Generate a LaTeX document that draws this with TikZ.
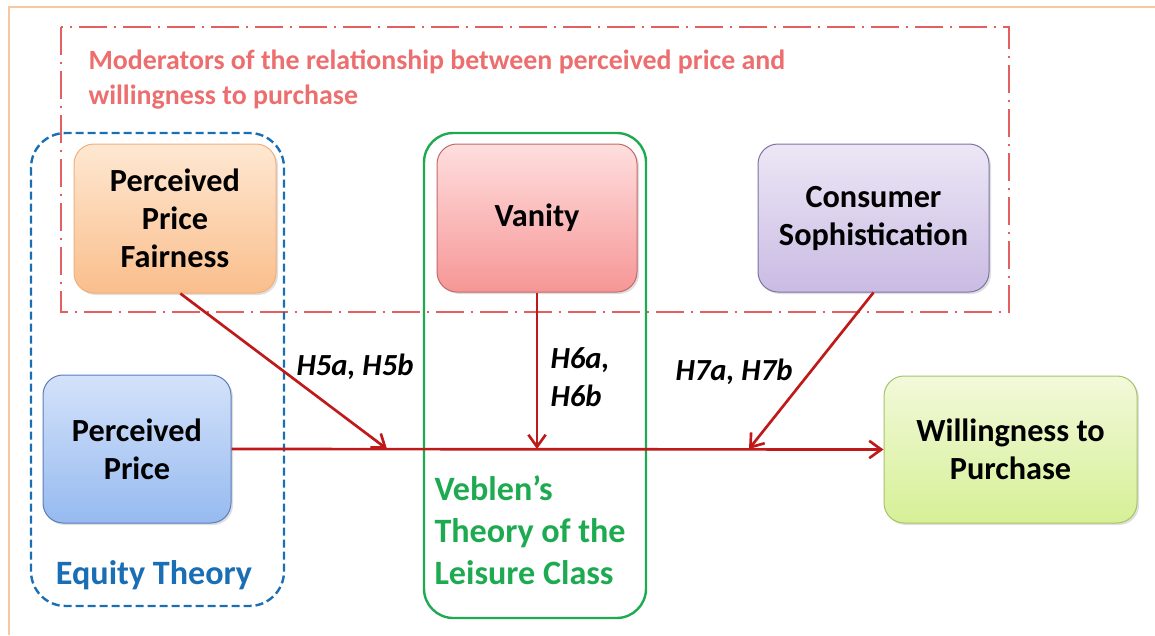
\documentclass[tikz,border=0pt]{standalone}
\usepackage{fontspec}
\setmainfont{Carlito}
\usetikzlibrary{shadows,arrows.meta}
\tikzset{every picture/.style={line width=0.75pt}}
\definecolor{framecol}{RGB}{250,200,160}
\definecolor{modred}{RGB}{228,95,95}
\definecolor{modtext}{RGB}{236,110,110}
\definecolor{equityblue}{RGB}{25,110,180}
\definecolor{veblengreen}{RGB}{30,170,80}
\definecolor{arrowred}{RGB}{192,25,25}

\begin{document}
\begin{tikzpicture}[x=0.75pt,y=0.75pt,yscale=-1,xscale=1,
    factor/.style={draw, rounded corners=15pt, align=center, inner sep=0pt,
      font=\fontsize{24.2}{28.5}\selectfont\bfseries,
      drop shadow={shadow xshift=1.5pt, shadow yshift=-1.5pt, opacity=0.25}},
    hyp/.style={inner sep=0.75pt, font=\fontsize{23}{29}\selectfont\bfseries\itshape},
    link/.style={draw=arrowred, line width=2pt, -{Straight Barb[length=9pt,width=13pt]}}]
\useasboundingbox (0,0) rectangle (1155,635);
% outer frame and moderator area
\draw [color=framecol, line width=1.5pt] (9,635) -- (9,7) -- (1155,7);
\draw [color=modred, line width=2.1pt, dash pattern=on 21pt off 5pt on 2pt off 5pt] (61,27) rectangle (1009,312);
\draw (87,80) node [anchor=west, inner sep=0.75pt, align=left, text=modtext, font=\fontsize{20.9}{26.25}\selectfont\bfseries] (modlabel) {Moderators of the relationship between perceived price and\\willingness to purchase};
% theories
\draw [color=equityblue, line width=1.8pt, dash pattern=on 6pt off 3pt, rounded corners=26pt] (31,133) rectangle (284,606);
\draw [color=veblengreen, line width=1.8pt, rounded corners=22pt] (424,133) rectangle (646,618);
\draw (154,575) node [inner sep=0.75pt, text=equityblue, font=\fontsize{25.6}{28}\selectfont\bfseries] (equity) {Equity Theory};
\draw (433,530) node [anchor=west, inner sep=0.75pt, align=left, text=veblengreen, font=\fontsize{25.6}{31.5}\selectfont\bfseries] (veblen) {Veblen’s\\Theory of the\\Leisure Class};
% factors
\node [factor, draw={rgb,255:red,240;green,175;blue,125}, top color={rgb,255:red,254;green,232;blue,210}, bottom color={rgb,255:red,250;green,190;blue,140}, minimum width=151.5pt, minimum height=111.75pt] (ppf) at (175,218.5) {Perceived\\Price\\Fairness};
\node [factor, draw={rgb,255:red,195;green,105;blue,105}, top color={rgb,255:red,255;green,222;blue,222}, bottom color={rgb,255:red,246;green,150;blue,150}, minimum width=150pt, minimum height=111pt] (van) at (537,218) {Vanity};
\node [factor, draw={rgb,255:red,125;green,115;blue,165}, top color={rgb,255:red,236;green,231;blue,246}, bottom color={rgb,255:red,202;green,187;blue,227}, minimum width=173.25pt, minimum height=111pt] (cs) at (873.5,218) {Consumer\\Sophistication};
\node [factor, draw={rgb,255:red,90;green,125;blue,185}, top color={rgb,255:red,212;green,226;blue,250}, bottom color={rgb,255:red,150;green,186;blue,240}, minimum width=141pt, minimum height=111pt] (pp) at (137,449) {Perceived\\Price};
\node [factor, draw={rgb,255:red,165;green,195;blue,105}, top color={rgb,255:red,242;green,249;blue,218}, bottom color={rgb,255:red,214;green,240;blue,150}, minimum width=189.75pt, minimum height=110.25pt] (wtp) at (1010.5,449.5) {Willingness to\\Purchase};
% paths
\coordinate (h5) at (387,449);
\coordinate (h7) at (749,449);
\draw [link] (pp.east) -- (wtp.west);
\draw [link] ([xshift=4pt]ppf.south) -- (h5);
\draw [link] (van.south) -- (van.south |- pp.east);
\draw [link] (cs.south) -- (h7);
\draw (355,367) node [hyp] (h5lab) {H5a, H5b};
\draw (549,377) node [hyp, anchor=west, align=left] (h6lab) {H6a,\\H6b};
\draw (734,372) node [hyp] (h7lab) {H7a, H7b};
\end{tikzpicture}
\end{document}
